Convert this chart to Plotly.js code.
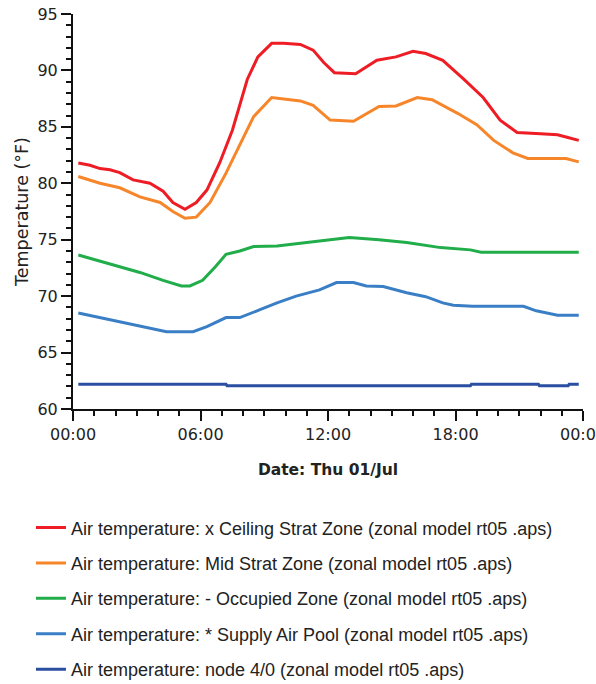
<!DOCTYPE html>
<html>
<head>
<meta charset="utf-8">
<script src="https://cdn.plot.ly/plotly-3.0.1.min.js"></script>
<style>html,body{margin:0;padding:0;background:#fff;}#chart{width:596px;height:684px;}</style>
</head>
<body>
<div id="chart"></div>
<script>
// Hours of the day (00:00 = 0, next 00:00 = 24)
const tickVals = [0, 6, 12, 18, 24];
const tickText = ["00:00", "06:00", "12:00", "18:00", "00:00"];
const yTickVals = [60, 65, 70, 75, 80, 85, 90, 95];

const seriesNames = [
  "Air temperature: x Ceiling Strat Zone (zonal model rt05 .aps)",
  "Air temperature: Mid Strat Zone (zonal model rt05 .aps)",
  "Air temperature: - Occupied Zone (zonal model rt05 .aps)",
  "Air temperature: * Supply Air Pool (zonal model rt05 .aps)",
  "Air temperature: node 4/0 (zonal model rt05 .aps)"
];
const seriesColors = ["#ee1d25", "#f7862b", "#20ad4a", "#3a7fc6", "#2a4fa1"];

const ceilingHours = [0.25, 0.8, 1.27, 1.74, 2.2, 2.83, 3.62, 4.24, 4.7, 5.27, 5.8, 6.3, 6.9, 7.5, 8.2, 8.7, 9.35, 9.9, 10.7, 11.3, 11.8, 12.3, 13.3, 14.3, 15.2, 16.0, 16.6, 17.4, 18.4, 19.3, 20.1, 20.9, 22.0, 22.8, 23.2, 23.8];
const ceilingTemp  = [81.8, 81.6, 81.3, 81.2, 80.95, 80.3, 80.0, 79.3, 78.3, 77.7, 78.3, 79.4, 81.8, 84.7, 89.2, 91.2, 92.4, 92.4, 92.3, 91.8, 90.7, 89.8, 89.7, 90.9, 91.2, 91.7, 91.5, 90.9, 89.2, 87.6, 85.6, 84.5, 84.4, 84.3, 84.1, 83.8];

const midHours = [0.25, 1.27, 2.2, 3.15, 4.1, 4.7, 5.27, 5.8, 6.45, 7.2, 7.9, 8.5, 9.35, 10.7, 11.3, 12.1, 13.2, 14.4, 15.2, 16.2, 16.9, 18.1, 19.0, 19.8, 20.7, 21.4, 23.2, 23.8];
const midTemp  = [80.6, 80.0, 79.6, 78.8, 78.3, 77.5, 76.9, 77.0, 78.3, 80.9, 83.6, 85.9, 87.6, 87.3, 86.9, 85.6, 85.5, 86.8, 86.85, 87.6, 87.4, 86.2, 85.2, 83.8, 82.7, 82.2, 82.2, 81.9];

const occupiedHours = [0.25, 1.27, 2.2, 3.15, 4.24, 5.1, 5.5, 6.1, 6.7, 7.2, 7.85, 8.5, 9.6, 10.7, 11.3, 12.2, 13.0, 14.4, 15.7, 17.3, 18.7, 19.2, 23.8];
const occupiedTemp  = [73.65, 73.1, 72.6, 72.1, 71.4, 70.9, 70.9, 71.4, 72.6, 73.7, 74.0, 74.4, 74.45, 74.7, 74.8, 75.0, 75.2, 75.0, 74.75, 74.3, 74.1, 73.9, 73.9];

const supplyHours = [0.25, 1.27, 2.2, 3.3, 4.4, 5.65, 6.3, 7.2, 7.85, 8.8, 9.6, 10.5, 11.6, 12.4, 13.2, 13.8, 14.6, 15.7, 16.6, 17.4, 17.9, 18.8, 21.2, 21.8, 22.8, 23.8];
const supplyTemp  = [68.5, 68.1, 67.75, 67.3, 66.85, 66.85, 67.3, 68.1, 68.1, 68.8, 69.4, 70.0, 70.55, 71.2, 71.2, 70.9, 70.85, 70.3, 69.95, 69.4, 69.2, 69.1, 69.1, 68.7, 68.3, 68.3];

const nodeHours = [0.25, 7.2, 7.25, 18.7, 18.75, 21.9, 21.95, 23.3, 23.35, 23.8];
const nodeTemp  = [62.2, 62.2, 62.05, 62.05, 62.2, 62.2, 62.05, 62.05, 62.2, 62.2];

const xs = [ceilingHours, midHours, occupiedHours, supplyHours, nodeHours];
const ys = [ceilingTemp, midTemp, occupiedTemp, supplyTemp, nodeTemp];

const traces = xs.map((x, i) => ({
  x: x, y: ys[i], type: "scatter", mode: "lines",
  name: seriesNames[i], legendgroup: "g" + i,
  line: {color: seriesColors[i], width: 3}
}));

const tickFont = "DejaVu Sans, sans-serif";
const legendFont = "Liberation Sans, Arial, sans-serif";
const layout = {
  width: 596, height: 684,
  margin: {l: 73, r: 13, t: 14, b: 275, autoexpand: false},
  paper_bgcolor: "#fff", plot_bgcolor: "#fff",
  font: {family: tickFont, size: 16, color: "#222"},
  showlegend: true,
  legend: {
    x: -0.0824, xanchor: "left", y: -0.254, yanchor: "top",
    font: {family: legendFont, size: 18, color: "#222"},
    traceorder: "grouped", tracegroupgap: 9,
    itemwidth: 30, bgcolor: "rgba(0,0,0,0)"
  },
  xaxis: {
    range: [0, 24], tickvals: tickVals, ticktext: tickText,
    ticklabeloverflow: "allow",
    showgrid: false, zeroline: false,
    showline: true, linecolor: "#111", linewidth: 2,
    ticks: "outside", ticklen: 10, tickwidth: 2, tickcolor: "#111",
    minor: {ticks: "outside", dtick: 1, ticklen: 5, tickwidth: 2, tickcolor: "#111", showgrid: false},
    tickfont: {family: tickFont, size: 16, color: "#222"},
    title: {text: "<b>Date: Thu 01/Jul</b>", font: {family: tickFont, size: 15.5, color: "#222"}, standoff: 21}
  },
  yaxis: {
    range: [60, 95], tickvals: yTickVals,
    showgrid: false, zeroline: false,
    showline: true, linecolor: "#111", linewidth: 2,
    ticks: "outside", ticklen: 10, tickwidth: 2, tickcolor: "#111",
    minor: {ticks: "outside", dtick: 1, ticklen: 5, tickwidth: 2, tickcolor: "#111", showgrid: false},
    tickfont: {family: tickFont, size: 16, color: "#222"},
    title: {text: "Temperature (°F)", font: {family: tickFont, size: 17.5, color: "#222"}, standoff: 4}
  }
};

Plotly.newPlot("chart", traces, layout, {displayModeBar: false, staticPlot: true});
</script>
</body>
</html>
